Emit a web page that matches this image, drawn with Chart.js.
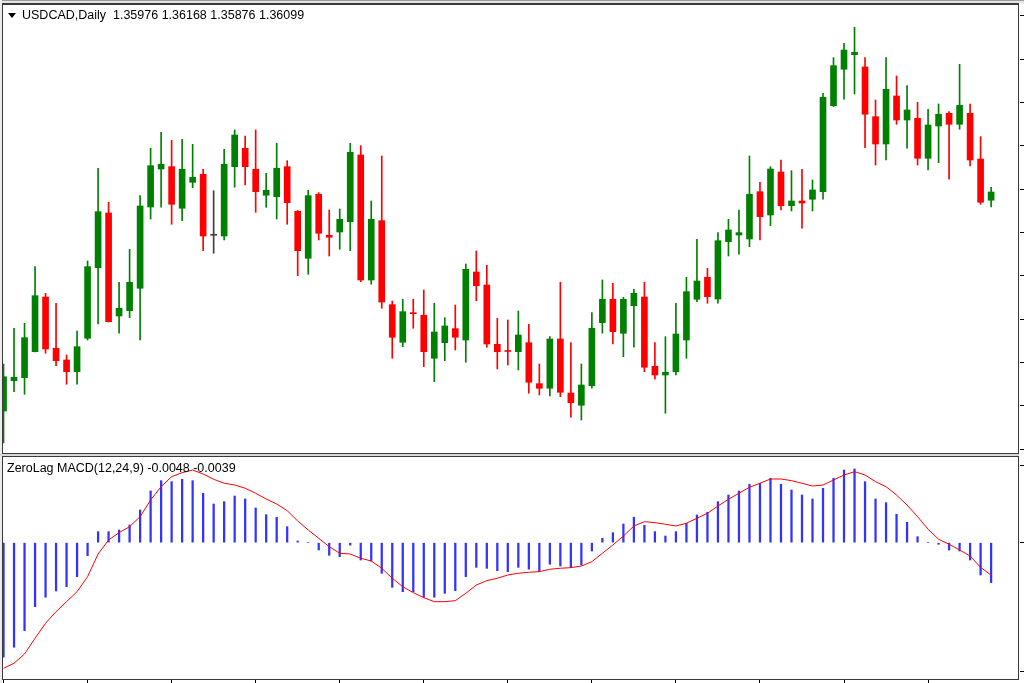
<!DOCTYPE html>
<html>
<head>
<meta charset="utf-8">
<title>USDCAD Daily - ZeroLag MACD</title>
<script src="https://cdn.jsdelivr.net/npm/chart.js@4.4.1/dist/chart.umd.min.js"></script>
<style>
  html, body { margin: 0; padding: 0; background: #fff; overflow: hidden; }
  #wrap { position: relative; width: 1024px; height: 683px; background: #fff; }
  canvas { position: absolute; left: 0; }
  #priceCanvas { top: 0; }
  #macdCanvas { top: 455px; }
  .band { position: absolute; pointer-events: none; }
  #topBand { left: 0; top: 0; width: 1024px; height: 3px; background: #e4e4e4; border-top: 1px solid #9a9a9a; box-sizing: border-box; }
  #leftBand { left: 0; top: 0; width: 2px; height: 683px; background: #ececec; }
  #splitBand { left: 0; top: 454px; width: 1019px; height: 2px; background: #d8d8d8; }
  .frame { position: absolute; box-sizing: border-box; border: 1px solid #3a3a3a; pointer-events: none; }
  #priceFrame { left: 2px; top: 3px; width: 1017px; height: 451px; border-top-width: 2px; }
  #macdFrame { left: 2px; top: 456px; width: 1017px; height: 224px; }
  .label { position: absolute; font-family: "Liberation Sans", Arial, sans-serif; font-size: 12.5px; line-height: 12px; color: #000; white-space: pre; }
  #title { left: 22px; top: 9px; }
  #macdTitle { left: 7px; top: 462px; }
  #arrow { position: absolute; left: 8px; top: 13px; width: 0; height: 0;
           border-left: 4px solid transparent; border-right: 4px solid transparent; border-top: 5px solid #000; }
</style>
</head>
<body>
<div id="wrap">
  <canvas id="priceCanvas" width="1024" height="455"></canvas>
  <canvas id="macdCanvas" width="1024" height="228"></canvas>
  <div class="band" id="topBand"></div>
  <div class="band" id="leftBand"></div>
  <div class="band" id="splitBand"></div>
  <div class="frame" id="priceFrame"></div>
  <div class="frame" id="macdFrame"></div>
  <div id="arrow"></div>
  <div class="label" id="title">USDCAD,Daily  1.35976 1.36168 1.35876 1.36099</div>
  <div class="label" id="macdTitle">ZeroLag MACD(12,24,9) -0.0048 -0.0039</div>
</div>
<script>
// daily candles, oldest first (95 bars)
const opens = [
  1.32814, 1.33269, 1.33314, 1.33704, 1.34524, 1.33755, 1.33579, 1.33404, 1.33905, 1.34964,
  1.35784, 1.34239, 1.34319, 1.34655, 1.35874, 1.36444, 1.36479, 1.35855, 1.36245, 1.36365,
  1.35450, 1.35439, 1.36479, 1.36755, 1.36440, 1.36050, 1.36029, 1.36479, 1.35810, 1.35105,
  1.36065, 1.35450, 1.35499, 1.35654, 1.36654, 1.34779, 1.35669, 1.34409, 1.33845, 1.34289,
  1.34250, 1.33605, 1.33839, 1.34049, 1.33879, 1.34899, 1.34704, 1.33815, 1.33714, 1.33704,
  1.33839, 1.33224, 1.33155, 1.33894, 1.33084, 1.32900, 1.33194, 1.34139, 1.34490, 1.33980,
  1.34394, 1.34524, 1.33485, 1.33354, 1.33404, 1.33879, 1.34490, 1.34820, 1.34494, 1.35354,
  1.35454, 1.35394, 1.36104, 1.35754, 1.36399, 1.35894, 1.35964, 1.35990, 1.36104, 1.37394,
  1.37940, 1.38159, 1.37974, 1.37229, 1.36819, 1.37539, 1.37179, 1.37205, 1.36605, 1.37089,
  1.37280, 1.37115, 1.37280, 1.36594, 1.35976
];
const highs = [
  1.33519, 1.34055, 1.34130, 1.34979, 1.34580, 1.34430, 1.33654, 1.34014, 1.35064, 1.36455,
  1.35945, 1.34745, 1.35240, 1.36044, 1.36755, 1.36995, 1.36875, 1.36890, 1.36815, 1.36440,
  1.36119, 1.36740, 1.37029, 1.36939, 1.37029, 1.36380, 1.36830, 1.36569, 1.35822, 1.36125,
  1.36089, 1.35829, 1.35844, 1.36830, 1.36794, 1.35964, 1.36639, 1.34464, 1.34490, 1.34490,
  1.34629, 1.34430, 1.34214, 1.34404, 1.35019, 1.35214, 1.34999, 1.34205, 1.34179, 1.34314,
  1.34115, 1.33519, 1.33929, 1.34745, 1.33839, 1.33519, 1.34289, 1.34779, 1.34730, 1.34520,
  1.34640, 1.34745, 1.33839, 1.33929, 1.34430, 1.34820, 1.35390, 1.34955, 1.35489, 1.35690,
  1.35829, 1.36639, 1.36245, 1.36479, 1.36579, 1.36419, 1.36440, 1.36279, 1.37580, 1.38114,
  1.38330, 1.38570, 1.38114, 1.37479, 1.38114, 1.37839, 1.37694, 1.37445, 1.37340, 1.37419,
  1.37304, 1.38015, 1.37419, 1.36929, 1.36168
];
const lows = [
  1.32334, 1.33104, 1.33065, 1.33699, 1.33680, 1.33494, 1.33215, 1.33215, 1.33879, 1.34119,
  1.34149, 1.33980, 1.34214, 1.33879, 1.35694, 1.35870, 1.35615, 1.35669, 1.36164, 1.35219,
  1.35180, 1.35379, 1.36170, 1.36204, 1.35795, 1.35870, 1.35694, 1.35615, 1.34844, 1.34865,
  1.35379, 1.35139, 1.35240, 1.35219, 1.34754, 1.34715, 1.34355, 1.33605, 1.33779, 1.34055,
  1.33479, 1.33254, 1.33569, 1.33729, 1.33545, 1.34469, 1.33770, 1.33444, 1.33504, 1.33429,
  1.33080, 1.33054, 1.33039, 1.33029, 1.32720, 1.32679, 1.33155, 1.33980, 1.33819, 1.33629,
  1.33770, 1.33404, 1.33290, 1.32780, 1.33354, 1.33605, 1.34454, 1.34430, 1.34430, 1.35139,
  1.35165, 1.35279, 1.35379, 1.35594, 1.35829, 1.35814, 1.35555, 1.35814, 1.35990, 1.37381,
  1.37490, 1.37569, 1.36764, 1.36504, 1.36579, 1.37115, 1.36755, 1.36504, 1.36429, 1.36539,
  1.36290, 1.37040, 1.36489, 1.35915, 1.35876
];
const closes = [
  1.33328, 1.33320, 1.33914, 1.34544, 1.33744, 1.33569, 1.33404, 1.33779, 1.34979, 1.35804,
  1.34154, 1.34355, 1.34745, 1.35889, 1.36494, 1.36515, 1.35915, 1.36440, 1.36320, 1.35439,
  1.35450, 1.36515, 1.36954, 1.36479, 1.36104, 1.36125, 1.36455, 1.35939, 1.35219, 1.36044,
  1.35480, 1.35420, 1.35690, 1.36695, 1.34779, 1.35690, 1.34449, 1.33920, 1.34304, 1.34274,
  1.33704, 1.33999, 1.34089, 1.33920, 1.34940, 1.34694, 1.33819, 1.33704, 1.33707, 1.33954,
  1.33245, 1.33155, 1.33894, 1.33095, 1.32939, 1.33204, 1.34055, 1.34490, 1.34004, 1.34490,
  1.34580, 1.33470, 1.33354, 1.33395, 1.33969, 1.34604, 1.34764, 1.34529, 1.35369, 1.35529,
  1.35489, 1.36065, 1.35729, 1.36444, 1.35894, 1.35964, 1.35934, 1.36129, 1.37520, 1.37994,
  1.38229, 1.38195, 1.37265, 1.36819, 1.37640, 1.37179, 1.37329, 1.36605, 1.37104, 1.37265,
  1.37115, 1.37400, 1.36579, 1.35945, 1.36099
];

// ZeroLag MACD(12,24,9): histogram and signal line
const macdHist = [
  -0.01375, -0.01255, -0.01056, -0.00768, -0.00655, -0.0058, -0.00528, -0.00408, -0.00156, 0.00132,
  0.00132, 0.00152, 0.00212, 0.00392, 0.0062, 0.00744, 0.00732, 0.00761, 0.00744, 0.00593,
  0.00464, 0.00492, 0.0056, 0.00524, 0.00416, 0.00336, 0.00305, 0.00192, 0.0002, 0.0,
  -0.00088, -0.00152, -0.00168, -0.0003, -0.00208, -0.0022, -0.00368, -0.00536, -0.00588, -0.00588,
  -0.00655, -0.00655, -0.00608, -0.00576, -0.00408, -0.00296, -0.00308, -0.00336, -0.00348, -0.00296,
  -0.00319, -0.00348, -0.00259, -0.0028, -0.00296, -0.00268, -0.001, 0.00053, 0.0012, 0.00224,
  0.00305, 0.00209, 0.00132, 0.0008, 0.00132, 0.00233, 0.00332, 0.00365, 0.00492, 0.00572,
  0.0062, 0.00701, 0.00713, 0.00773, 0.00701, 0.00632, 0.00572, 0.00524, 0.00653, 0.00773,
  0.00872, 0.00884, 0.00732, 0.00524, 0.0048, 0.00341, 0.00245, 0.00072, 0.0, -0.0002,
  -0.00088, -0.001, -0.00208, -0.00388, -0.0048
];
const macdSignal = [
  -0.01507, -0.01447, -0.01336, -0.01147, -0.00967, -0.00828, -0.00708, -0.00588, -0.00408, -0.00136,
  0.00032, 0.0012, 0.00192, 0.00312, 0.00512, 0.00672, 0.00792, 0.0084, 0.00872, 0.00824,
  0.00761, 0.00713, 0.00692, 0.00653, 0.00593, 0.00524, 0.00464, 0.00384, 0.0026, 0.00152,
  0.00053, -0.00048, -0.00127, -0.00136, -0.00187, -0.0022, -0.00307, -0.00427, -0.00528, -0.006,
  -0.0066, -0.00708, -0.00708, -0.00696, -0.00607, -0.00508, -0.00456, -0.00427, -0.00388, -0.00367,
  -0.00355, -0.00348, -0.00319, -0.00307, -0.003, -0.0028, -0.00228, -0.00127, -0.00028, 0.0008,
  0.002, 0.00252, 0.0024, 0.00221, 0.002, 0.00233, 0.00293, 0.00353, 0.0044, 0.00521,
  0.00593, 0.00665, 0.00713, 0.00764, 0.00764, 0.00744, 0.00713, 0.0068, 0.00692, 0.00752,
  0.00812, 0.00852, 0.00812, 0.00732, 0.00672, 0.00572, 0.00452, 0.00312, 0.00161, 0.00041,
  -0.00019, -0.00088, -0.0016, -0.00296, -0.0039
];

// axis tick positions (labels fall outside the visible window)
const priceTicks = [1.3874, 1.3809, 1.3744, 1.3679, 1.3614, 1.3549, 1.3484, 1.3419, 1.3354, 1.3289, 1.3224];
const macdTicks = [0.0093, 0, -0.0154];
const timeTicks = [0, 8, 16, 24, 32, 40, 48, 56, 64, 72, 80, 88];

const UP = '#008000';
const DOWN = '#ff0000';
const DOJI = '#404040';

const bars = closes.map((c, i) => i);
const candleColors = bars.map(i => closes[i] > opens[i] ? UP : (closes[i] < opens[i] ? DOWN : DOJI));

// shared x range so both panels line up, with the empty shift on the right
const X_MIN = -0.05;
const X_MAX = 96.75;

function tickScale(values) {
    return function(scale) {
        scale.ticks = values.map(v => ({value: v}));
    };
}

const tickGrid = {
    offset: false,
    drawOnChartArea: false,
    drawTicks: true,
    tickLength: 4,
    color: '#000',
    lineWidth: 1
};

new Chart(document.getElementById('priceCanvas'), {
    type: 'bar',
    data: {
        datasets: [
            {
                label: 'body',
                data: bars.map(i => ({x: i, y: [opens[i], closes[i]]})),
                backgroundColor: candleColors,
                barThickness: 6,
                minBarLength: 1,
                grouped: false,
                order: 0
            },
            {
                label: 'wick',
                data: bars.map(i => ({x: i, y: [lows[i], highs[i]]})),
                backgroundColor: candleColors,
                barThickness: 1,
                grouped: false,
                order: 1
            }
        ]
    },
    options: {
        responsive: false,
        animation: false,
        events: [],
        layout: {padding: {left: 3, top: 5, right: 0, bottom: 3}},
        plugins: {legend: {display: false}, tooltip: {enabled: false}},
        scales: {
            x: {type: 'linear', min: X_MIN, max: X_MAX, offset: false, display: false},
            y: {
                type: 'linear',
                position: 'right',
                min: 1.32199,
                max: 1.38904,
                beginAtZero: false,
                afterBuildTicks: tickScale(priceTicks),
                grid: tickGrid,
                border: {display: false},
                ticks: {display: false}
            }
        }
    }
});

new Chart(document.getElementById('macdCanvas'), {
    type: 'bar',
    data: {
        datasets: [
            {
                type: 'line',
                label: 'signal',
                data: bars.map(i => ({x: i, y: macdSignal[i]})),
                borderColor: '#ff0000',
                borderWidth: 1,
                pointRadius: 0,
                tension: 0,
                order: 0
            },
            {
                label: 'macd',
                data: bars.map(i => ({x: i, y: macdHist[i]})),
                backgroundColor: '#3333ff',
                barThickness: 1.6,
                grouped: false,
                order: 1
            }
        ]
    },
    options: {
        responsive: false,
        animation: false,
        events: [],
        layout: {padding: {left: 3, top: 2, right: 0, bottom: 0}},
        plugins: {legend: {display: false}, tooltip: {enabled: false}},
        scales: {
            x: {
                type: 'linear',
                min: X_MIN,
                max: X_MAX,
                offset: false,
                afterBuildTicks: tickScale(timeTicks),
                grid: tickGrid,
                border: {display: false},
                ticks: {display: false}
            },
            y: {
                type: 'linear',
                position: 'right',
                min: -0.01636,
                max: 0.01028,
                beginAtZero: false,
                afterBuildTicks: tickScale(macdTicks),
                grid: tickGrid,
                border: {display: false},
                ticks: {display: false}
            }
        }
    }
});
</script>
</body>
</html>
